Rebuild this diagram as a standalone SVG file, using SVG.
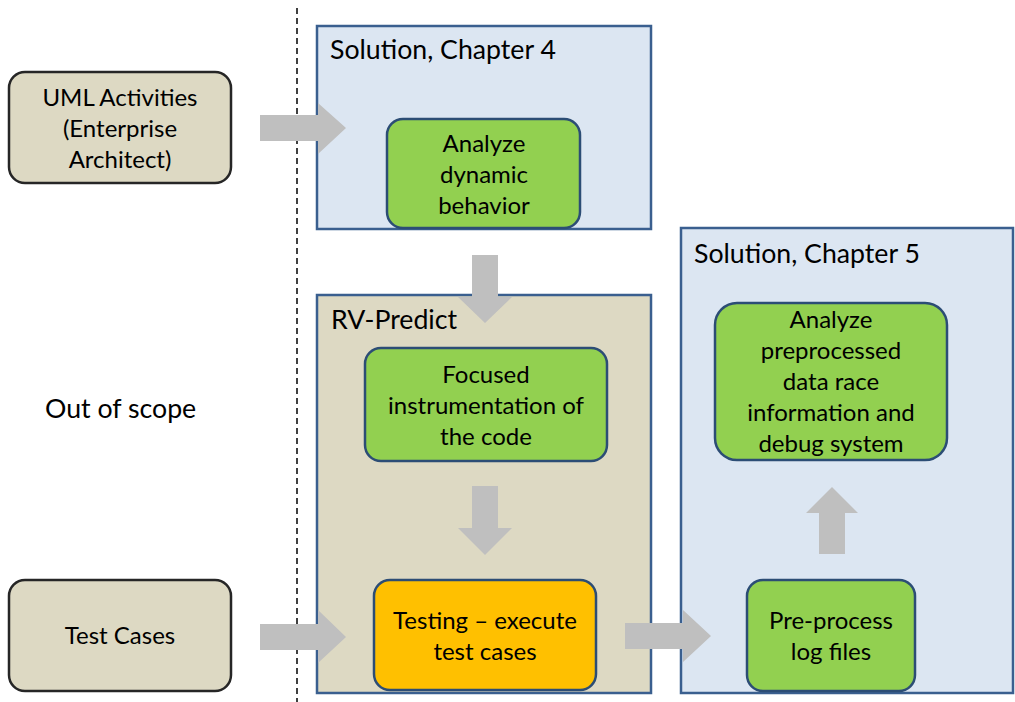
<svg xmlns="http://www.w3.org/2000/svg" width="1015" height="702" viewBox="0 0 1015 702">
  <style>
    text { font-family: Lato, "Liberation Sans", sans-serif; font-size: 24px; fill: #000; }
    .c { text-anchor: middle; }
    .big { font-size: 26.7px; }
    .ext { fill: #DDD9C3; stroke: #262626; stroke-width: 2.5; }
    .blue { fill: #DCE6F2; stroke: #3A5F8F; stroke-width: 2.5; }
    .tan { fill: #DDD9C3; stroke: #3A5F8F; stroke-width: 2.5; }
    .green { fill: #92D050; stroke: #2C4D75; stroke-width: 2.5; }
    .orange { fill: #FFC000; stroke: #2C4D75; stroke-width: 2.5; }
    .arrow { fill: #BFBFBF; }
  </style>

  <!-- scope boundary -->
  <line x1="297" y1="8" x2="297" y2="702" stroke="#000" stroke-width="1.5" stroke-dasharray="6,4"/>

  <!-- containers -->
  <g id="chapter4">
    <rect class="blue" x="317" y="26" width="334" height="203"/>
    <text class="big" x="330" y="59">Solution, Chapter 4</text>
  </g>
  <g id="rv-predict">
    <rect class="tan" x="317" y="295" width="334" height="398"/>
    <text class="big" x="331" y="329">RV-Predict</text>
  </g>
  <g id="chapter5">
    <rect class="blue" x="681" y="228" width="332" height="465"/>
    <text class="big" x="694" y="263">Solution, Chapter 5</text>
  </g>

  <!-- block arrows -->
  <g id="connectors">
    <polygon class="arrow" points="260,115 318,115 318,103 346,128 318,154 318,141 260,141"/>
    <polygon class="arrow" points="472,255 498,255 498,297 512,297 485,323 458,297 472,297"/>
    <polygon class="arrow" points="472,486 498,486 498,528 512,528 485,555 458,528 472,528"/>
    <polygon class="arrow" points="260,624 318,624 318,610 346,637 318,663 318,650 260,650"/>
    <polygon class="arrow" points="625,623 683,623 683,610 711,636 683,662 683,649 625,649"/>
    <polygon class="arrow" points="819,554 845,554 845,513 858,513 832,487 806,513 819,513"/>
  </g>

  <!-- external inputs -->
  <g id="uml-activities">
    <rect class="ext" x="9" y="72" width="222" height="111" rx="16"/>
    <text class="c" x="120" y="106">UML Activities</text>
    <text class="c" x="120" y="137">(Enterprise</text>
    <text class="c" x="120" y="168">Architect)</text>
  </g>
  <g id="test-cases">
    <rect class="ext" x="9" y="580" width="222" height="111" rx="16"/>
    <text class="c" x="120" y="644">Test Cases</text>
  </g>
  <g id="out-of-scope">
    <text class="big" x="45" y="418">Out of scope</text>
  </g>

  <!-- process steps -->
  <g id="analyze-dynamic">
    <rect class="green" x="387" y="119" width="193" height="109" rx="16"/>
    <text class="c" x="484" y="152">Analyze</text>
    <text class="c" x="484" y="183">dynamic</text>
    <text class="c" x="484" y="214">behavior</text>
  </g>
  <g id="instrumentation">
    <rect class="green" x="365" y="348" width="242" height="113" rx="16"/>
    <text class="c" x="486" y="383">Focused</text>
    <text class="c" x="486" y="414">instrumentation of</text>
    <text class="c" x="486" y="445">the code</text>
  </g>
  <g id="testing">
    <rect class="orange" x="374" y="580" width="222" height="110" rx="16"/>
    <text class="c" x="485" y="629">Testing – execute</text>
    <text class="c" x="485" y="660">test cases</text>
  </g>
  <g id="preprocess">
    <rect class="green" x="747" y="580" width="168" height="111" rx="16"/>
    <text class="c" x="831" y="629">Pre-process</text>
    <text class="c" x="831" y="660">log files</text>
  </g>
  <g id="analyze-preprocessed">
    <rect class="green" x="715" y="303" width="232" height="157" rx="22"/>
    <text class="c" x="831" y="328">Analyze</text>
    <text class="c" x="831" y="359">preprocessed</text>
    <text class="c" x="831" y="390">data race</text>
    <text class="c" x="831" y="421">information and</text>
    <text class="c" x="831" y="452">debug system</text>
  </g>
</svg>
